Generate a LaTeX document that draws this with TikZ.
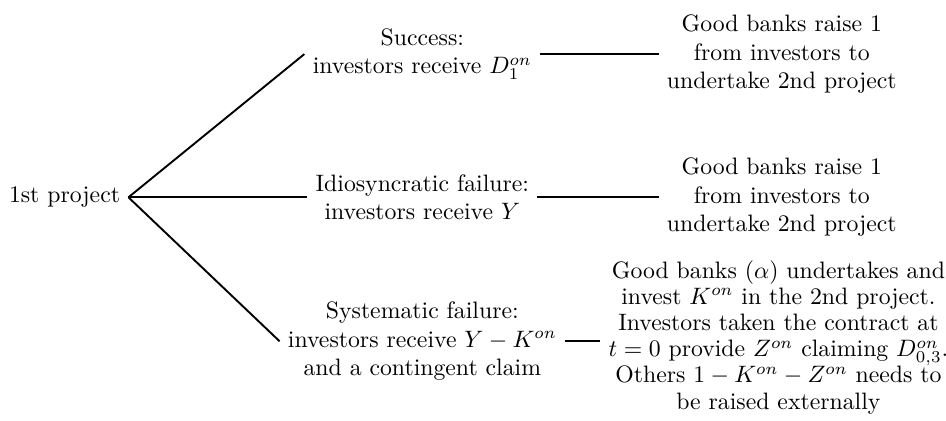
\documentclass[tikz,border=0pt]{standalone}
\usepackage{amsmath,amssymb}
\usepackage{tikz}

\begin{document}
\begin{tikzpicture}[
  stage/.style={align=center},
  branch/.style={black, thick}]
  \useasboundingbox (0,0) rectangle (14,-6.23);
  \node[stage] (first) at (0.955,-2.92) {1st project};
  \node[stage] (success) at (6.25,-0.80) {Success:\\ investors receive $D_1^{on}$};
  \node[stage] (idio) at (6.25,-2.92) {Idiosyncratic failure:\\ investors receive $Y$};
  \node[stage] (sys) at (6.25,-5.05) {Systematic failure:\\ investors receive $Y-K^{on}$\\ and a contingent claim};
  \node[stage] (raiseA) at (11.57,-0.80) {Good banks raise 1\\ from investors to\\ undertake 2nd project};
  \node[stage] (raiseB) at (11.57,-2.92) {Good banks raise 1\\ from investors to\\ undertake 2nd project};
  \node[stage, font=\linespread{0.92}\selectfont] (invest) at (11.52,-4.99) {Good banks ($\alpha$) undertakes and\\ invest $K^{on}$ in the 2nd project.\\ Investors taken the contract at\\ $t=0$ provide $Z^{on}$ claiming $D^{on}_{0,3}$.\\ Others $1-K^{on}-Z^{on}$ needs to\\ be raised externally};
  \draw[branch] (first.east) -- (success.west);
  \draw[branch] (first.east) -- (idio.west);
  \draw[branch] (first.east) -- (sys.west);
  \draw[branch] (success.east) -- (raiseA.west);
  \draw[branch] (idio.east) -- (raiseB.west);
  \draw[branch] (sys.east) -- (sys.east -| invest.west);
\end{tikzpicture}
\end{document}
